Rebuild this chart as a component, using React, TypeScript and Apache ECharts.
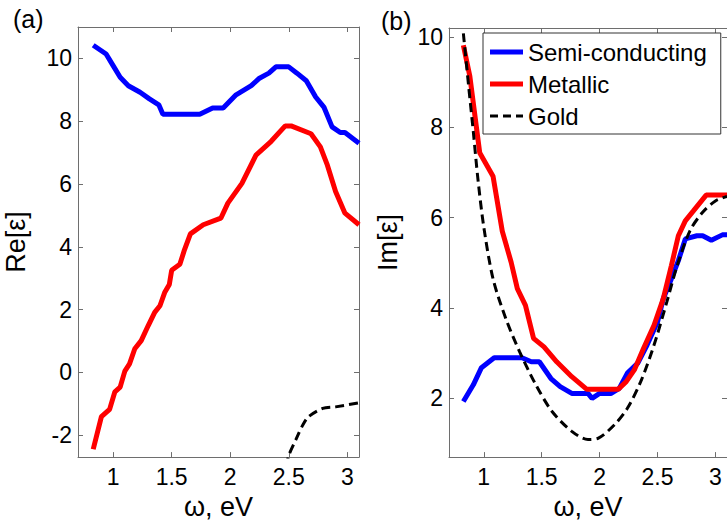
import React, { useEffect, useRef } from "react";
import * as echarts from "echarts";

const xTicks = [1, 1.5, 2, 2.5, 3];

const semiRe = [[0.83,10.42],[0.94,10.14],[1.0,9.77],[1.06,9.4],[1.13,9.13],[1.23,8.92],[1.31,8.71],[1.39,8.52],[1.425,8.22],[1.74,8.22],[1.85,8.42],[1.94,8.42],[2.05,8.84],[2.18,9.13],[2.25,9.37],[2.33,9.53],[2.39,9.73],[2.5,9.73],[2.57,9.53],[2.65,9.29],[2.73,8.77],[2.8,8.45],[2.87,7.82],[2.94,7.64],[2.98,7.64],[3.1,7.3]];
const metRe = [[0.83,-2.45],[0.9,-1.41],[0.97,-1.18],[1.015,-0.62],[1.06,-0.47],[1.1,0.04],[1.14,0.27],[1.185,0.75],[1.24,1.01],[1.3,1.49],[1.355,1.91],[1.4,2.12],[1.44,2.54],[1.48,2.8],[1.5,3.25],[1.57,3.44],[1.61,3.91],[1.66,4.41],[1.77,4.7],[1.92,4.91],[1.98,5.39],[2.1,6.02],[2.22,6.92],[2.35,7.36],[2.47,7.85],[2.52,7.85],[2.69,7.6],[2.77,7.18],[2.83,6.6],[2.9,5.76],[2.98,5.07],[3.1,4.7]];
const goldRe = [[2.48,-3.0],[2.5,-2.65],[2.56,-2.15],[2.62,-1.68],[2.67,-1.41],[2.79,-1.15],[2.9,-1.1],[3.1,-0.97]];

const semiIm = [[0.824,1.93],[0.91,2.3],[0.98,2.68],[1.09,2.9],[1.33,2.9],[1.41,2.81],[1.48,2.81],[1.58,2.44],[1.66,2.26],[1.76,2.11],[1.9,2.11],[1.935,2.0],[2.0,2.11],[2.1,2.11],[2.17,2.22],[2.24,2.56],[2.33,2.78],[2.41,3.18],[2.5,3.69],[2.55,4.21],[2.62,4.65],[2.68,5.05],[2.74,5.53],[2.84,5.6],[2.89,5.6],[2.965,5.5],[3.06,5.62],[3.1,5.62]];
const metIm = [[0.824,9.82],[0.88,9.13],[0.965,7.44],[1.08,6.92],[1.16,5.7],[1.236,5.02],[1.29,4.43],[1.36,4.06],[1.43,3.33],[1.52,3.14],[1.63,2.81],[1.76,2.48],[1.89,2.2],[2.16,2.2],[2.23,2.37],[2.3,2.63],[2.38,3.11],[2.47,3.62],[2.55,4.21],[2.62,4.94],[2.68,5.6],[2.74,5.93],[2.81,6.15],[2.92,6.5],[3.1,6.5]];
const goldIm = [[0.824,10.08],[0.87,8.9],[0.91,7.9],[0.95,6.85],[1.0,5.8],[1.08,4.65],[1.19,3.77],[1.31,3.03],[1.45,2.3],[1.59,1.71],[1.76,1.27],[1.9,1.09],[1.99,1.12],[2.13,1.42],[2.24,1.78],[2.355,2.37],[2.47,3.18],[2.58,4.13],[2.67,4.94],[2.78,5.71],[2.89,6.12],[3.0,6.37],[3.1,6.47]];

const seriesNames = ["Semi-conducting", "Metallic", "Gold"];

const FONT = "'Liberation Sans', Arial, sans-serif";
const AX = "#6e6e6e";

export default function App() {
  const ref = useRef<HTMLDivElement>(null);
  useEffect(() => {
    document.body.style.margin = "0";
    const chart = echarts.init(ref.current!, null, { renderer: "svg" });
    const fmtX = (v: number) => (xTicks.some((t) => Math.abs(t - v) < 1e-6) ? String(v) : "");
    const fmtY = (v: number) => (Math.abs(v / 2 - Math.round(v / 2)) < 1e-6 ? String(Math.round(v)) : "");
    const axLine = { show: true, onZero: false, lineStyle: { color: AX, width: 1 } };
    const axTick = { show: true, inside: true, length: 5, lineStyle: { color: AX } };
    const bottomX = (grid: number) => ({
      type: "value", gridIndex: grid, min: 0.7, max: 3.1, splitNumber: 5, position: "bottom",
      axisLine: axLine, axisTick: axTick,
      axisLabel: { formatter: fmtX, color: "#000", fontSize: 23, fontFamily: FONT, margin: 8, showMinLabel: false, showMaxLabel: false },
      splitLine: { show: false },
      name: "ω, eV", nameLocation: "middle", nameGap: 27,
      nameTextStyle: { fontSize: 27, fontFamily: FONT, color: "#000" },
    });
    const topX = (grid: number) => ({
      type: "value", gridIndex: grid, min: 0.7, max: 3.1, splitNumber: 5, position: "top",
      axisLine: axLine, axisTick: axTick,
      axisLabel: { show: false }, splitLine: { show: false },
    });
    const leftY = (grid: number, min: number, max: number, split: number, name: string, gap: number) => ({
      type: "value", gridIndex: grid, min, max, splitNumber: split, position: "left",
      axisLine: axLine, axisTick: axTick,
      axisLabel: { formatter: fmtY, color: "#000", fontSize: 23, fontFamily: FONT, margin: 6, showMinLabel: false, showMaxLabel: false },
      splitLine: { show: false },
      name, nameLocation: "middle", nameGap: gap,
      nameTextStyle: { fontSize: 27, fontFamily: FONT, color: "#000" },
    });
    const rightY = (grid: number, min: number, max: number, split: number) => ({
      type: "value", gridIndex: grid, min, max, splitNumber: split, position: "right",
      axisLine: axLine, axisTick: axTick,
      axisLabel: { show: false }, splitLine: { show: false },
    });
    const line = (name: string, data: number[][], xi: number, yi: number, color: string, dashed = false) => ({
      type: "line", name, data, xAxisIndex: xi, yAxisIndex: yi, color,
      showSymbol: false, symbol: "none", smooth: dashed ? 0.3 : false,
      lineStyle: { color, width: dashed ? 3 : 5, type: dashed ? [9, 5] : "solid" },
      z: dashed ? 3 : 2,
    });
    chart.setOption({
      animation: false,
      backgroundColor: "#fff",
      grid: [
        { left: 78, right: 368, top: 27, bottom: 65 },
        { left: 449, right: -3.5, top: 28, bottom: 65 },
      ],
      xAxis: [bottomX(0), topX(0), bottomX(1), topX(1)],
      yAxis: [
        leftY(0, -2.7, 11, 7, "Re[ε]", 49),
        rightY(0, -2.7, 11, 7),
        leftY(1, 0.7, 10.2, 5, "Im[ε]", 48),
        rightY(1, 0.7, 10.2, 5),
      ],
      legend: {
        orient: "vertical", left: 483, top: 33,
        backgroundColor: "#fff", borderColor: "#333", borderWidth: 1,
        padding: [7, 14, 6, 7], itemGap: 8, itemWidth: 33, itemHeight: 24,
        textStyle: { fontSize: 24, fontFamily: FONT, color: "#000", lineHeight: 24 },
        itemStyle: { borderWidth: 0 },
        data: [
          { name: seriesNames[0], icon: "path://M0,0h33v5h-33z" },
          { name: seriesNames[1], icon: "path://M0,0h33v5h-33z" },
          { name: seriesNames[2], icon: "path://M0,0h8v3h-8zM13,0h8v3h-8zM26,0h7v3h-7z" },
        ],
      },
      graphic: [
        { type: "text", left: 13, top: 6, style: { text: "(a)", fontSize: 25, fontFamily: FONT, fill: "#000" } },
        { type: "text", left: 381, top: 8, style: { text: "(b)", fontSize: 25, fontFamily: FONT, fill: "#000" } },
      ],
      series: [
        line(seriesNames[0], semiRe, 0, 0, "#0000ff"),
        line(seriesNames[1], metRe, 0, 0, "#ff0000"),
        line(seriesNames[2], goldRe, 0, 0, "#000000", true),
        line(seriesNames[0], semiIm, 2, 2, "#0000ff"),
        line(seriesNames[1], metIm, 2, 2, "#ff0000"),
        line(seriesNames[2], goldIm, 2, 2, "#000000", true),
      ],
    });
    return () => chart.dispose();
  }, []);
  return <div ref={ref} style={{ width: 727, height: 525 }} />;
}
